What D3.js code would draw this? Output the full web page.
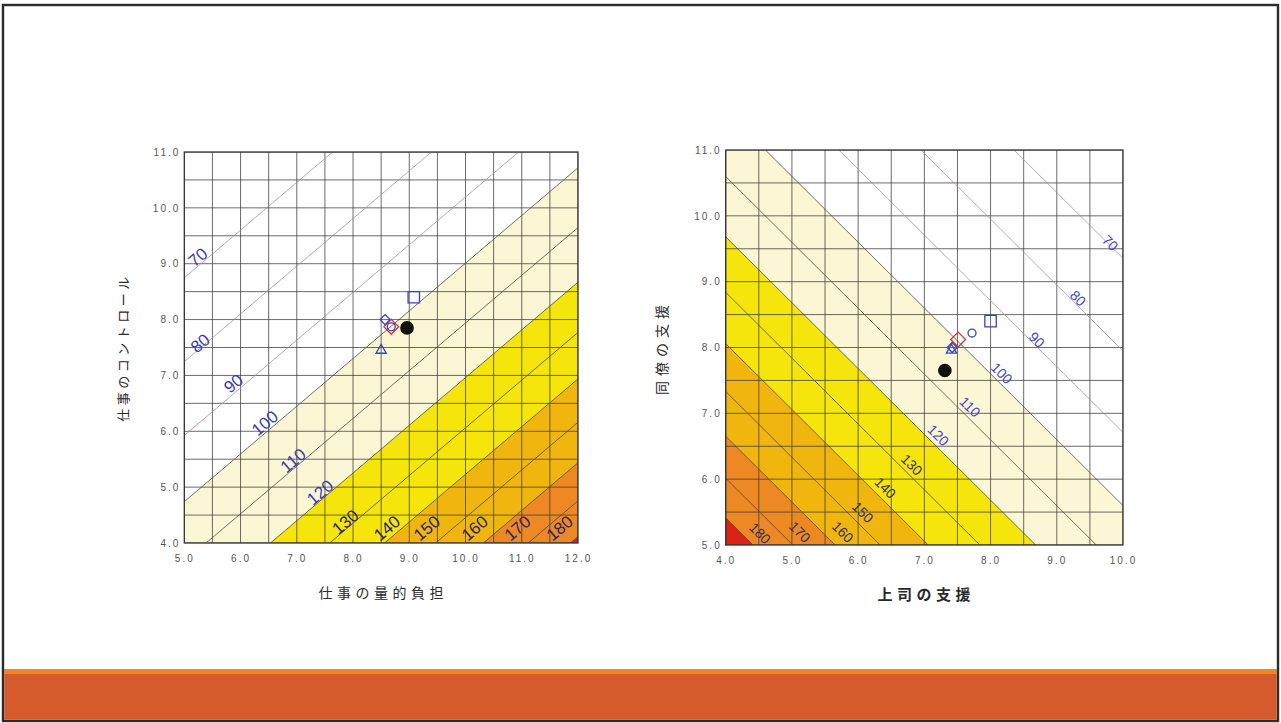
<!DOCTYPE html>
<html>
<head>
<meta charset="utf-8">
<script src="https://cdn.jsdelivr.net/npm/d3@7"></script>
<style>
  body { margin: 0; background: #fff; }
  svg { display: block; }
  text { font-family: "Liberation Sans", Arial, sans-serif; }
  .jp { font-family: "Noto Sans CJK JP", "Noto Sans CJK SC", sans-serif; }
</style>
</head>
<body>
<svg id="chart" width="1281" height="723"></svg>
<script>
// ---- iso-risk levels and band colours ----
const riskLevels = [70, 80, 90, 100, 110, 120, 130, 140, 150, 160, 170, 180];
const bandThresholds = [100, 120, 140, 160, 180];
const bandColors = ["#fbf6d4", "#f6e50a", "#f0b60e", "#ee8822", "#dc2214"];

// ---- left panel: quantitative demand vs. control ----
const demandTicks = [5, 6, 7, 8, 9, 10, 11, 12];
const controlTicks = [4, 5, 6, 7, 8, 9, 10, 11];
const demandValues  = [9.08, 8.96, 8.68, 8.57, 8.68, 8.50];
const controlValues = [8.40, 7.85, 7.87, 8.00, 7.87, 7.45];
// label anchor points along each iso-line (x, y in axis units)
const demandLabelX  = [5.24, 5.28, 5.87, 6.43, 6.93, 7.41, 7.86, 8.60, 9.31, 10.16, 10.92, 11.67];
const controlLabelY = [9.12, 7.58, 6.86, 6.15, 5.48, 4.91, 4.38, 4.27, 4.27, 4.27, 4.27, 4.27];

// ---- right panel: supervisor support vs. coworker support ----
const supervisorTicks = [4, 5, 6, 7, 8, 9, 10];
const coworkerTicks = [5, 6, 7, 8, 9, 10, 11];
const supervisorValues = [8.00, 7.31, 7.51, 7.42, 7.72, 7.41];
const coworkerValues   = [8.40, 7.65, 8.12, 8.00, 8.22, 7.96];
const supervisorLabelX = [9.81, 9.32, 8.70, 8.17, 7.69, 7.21, 6.81, 6.41, 6.07, 5.77, 5.12, 4.52];
const coworkerLabelY   = [9.59, 8.75, 8.12, 7.61, 7.10, 6.67, 6.22, 5.87, 5.50, 5.20, 5.20, 5.18];

// ---- markers shared by both panels ----
const markerShapes = ["square", "dot", "diamond", "diamond", "circle", "triangle"];
const markerColors = ["#3343c8", "#111111", "#e0303a", "#3343c8", "#3343c8", "#3343c8"];
const markerSizes  = [130, 120, 110, 50, 50, 45];

const svg = d3.select("#chart");

// page frame and footer band
svg.append("rect").attr("x", 3).attr("y", 5).attr("width", 1275).attr("height", 716)
  .attr("fill", "#fff").attr("stroke", "#2b2b2b").attr("stroke-width", 2.4);
svg.append("rect").attr("x", 4.2).attr("y", 669).attr("width", 1272.6).attr("height", 50.8)
  .attr("fill", "#d55a2c");
svg.append("rect").attr("x", 4.2).attr("y", 669).attr("width", 1272.6).attr("height", 5)
  .attr("fill", "#f0862a");

function drawPanel(cfg) {
  const x = d3.scaleLinear().domain(cfg.xDomain).range([cfg.left, cfg.right]);
  const y = d3.scaleLinear().domain(cfg.yDomain).range([cfg.bottom, cfg.top]);
  const g = svg.append("g");

  g.append("clipPath").attr("id", cfg.id + "-clip")
    .append("rect").attr("x", cfg.left).attr("y", cfg.top)
    .attr("width", cfg.right - cfg.left).attr("height", cfg.bottom - cfg.top);
  const plot = g.append("g").attr("clip-path", `url(#${cfg.id}-clip)`);
  plot.append("rect").attr("x", cfg.left).attr("y", cfg.top)
    .attr("width", cfg.right - cfg.left).attr("height", cfg.bottom - cfg.top).attr("fill", "#fff");

  // log-risk surface -> filled bands
  const logRisk = (xv, yv) => cfg.cx * (xv - cfg.mx) + cfg.cy * (yv - cfg.my);
  const nx = 161, ny = 161;
  const [x0, x1] = cfg.xDomain, [y0, y1] = cfg.yDomain;
  const grid = new Float64Array(nx * ny);
  for (let j = 0; j < ny; j++) {
    for (let i = 0; i < nx; i++) {
      grid[j * nx + i] = logRisk(x0 + (i / (nx - 1)) * (x1 - x0), y1 - (j / (ny - 1)) * (y1 - y0));
    }
  }
  const bands = d3.contours().size([nx, ny]).thresholds(bandThresholds.map(v => Math.log(v / 100)))(grid);
  const gx = c => x(x0 + ((c - 0.5) / (nx - 1)) * (x1 - x0));
  const gy = c => y(y1 - ((c - 0.5) / (ny - 1)) * (y1 - y0));
  const proj = d3.geoTransform({ point(px, py) { this.stream.point(gx(px), gy(py)); } });
  plot.selectAll("path.band").data(bands).join("path").attr("class", "band")
    .attr("d", d3.geoPath(proj)).attr("fill", (d, i) => bandColors[i]);

  // grid every half unit
  const xs = d3.range(x0, x1 + 1e-9, 0.5), ys = d3.range(y0, y1 + 1e-9, 0.5);
  plot.selectAll("line.vx").data(xs).join("line")
    .attr("x1", d => x(d)).attr("x2", d => x(d)).attr("y1", cfg.top).attr("y2", cfg.bottom)
    .attr("stroke", "#3c3c3c").attr("stroke-width", 0.9).attr("stroke-opacity", 0.85);
  plot.selectAll("line.hy").data(ys).join("line")
    .attr("y1", d => y(d)).attr("y2", d => y(d)).attr("x1", cfg.left).attr("x2", cfg.right)
    .attr("stroke", "#3c3c3c").attr("stroke-width", 0.9).attr("stroke-opacity", 0.85);

  // iso-risk lines
  const lineY = (v, xv) => cfg.my + (Math.log(v / 100) - cfg.cx * (xv - cfg.mx)) / cfg.cy;
  const xa = x0 - 2, xb = x1 + 2;
  plot.selectAll("line.iso").data(riskLevels).join("line")
    .attr("x1", x(xa)).attr("y1", v => y(lineY(v, xa)))
    .attr("x2", x(xb)).attr("y2", v => y(lineY(v, xb)))
    .attr("stroke", v => v < 100 ? "#a88e9c" : "#4a4a4a").attr("stroke-width", 0.8);

  // iso-line labels
  const angle = Math.atan2(y(lineY(100, xb)) - y(lineY(100, xa)), x(xb) - x(xa)) * 180 / Math.PI;
  g.selectAll("text.iso").data(riskLevels).join("text")
    .attr("transform", (v, i) => `translate(${x(cfg.labelX[i])},${y(cfg.labelY[i])}) rotate(${angle})`)
    .attr("text-anchor", "middle").attr("dy", "0.36em")
    .attr("font-size", cfg.labelSize).attr("fill", v => v <= 120 ? cfg.labelColor : cfg.labelColorDark)
    .text(v => v);

  // markers
  const sym = d3.symbol();
  const pts = cfg.xVals.map((v, i) => ({ xv: v, yv: cfg.yVals[i], i }));
  g.selectAll("path.mk").data(pts).join("path")
    .attr("transform", d => `translate(${x(d.xv)},${y(d.yv)})` + (markerShapes[d.i] === "diamond" ? " rotate(45)" : ""))
    .attr("d", d => {
      const s = markerShapes[d.i];
      const type = s === "square" || s === "diamond" ? d3.symbolSquare
        : s === "triangle" ? d3.symbolTriangle : d3.symbolCircle;
      return sym.type(type).size(markerSizes[d.i])();
    })
    .attr("fill", d => markerShapes[d.i] === "dot" ? "#111" : "none")
    .attr("stroke", d => markerColors[d.i]).attr("stroke-width", 1.3);

  // frame
  g.append("rect").attr("x", cfg.left).attr("y", cfg.top)
    .attr("width", cfg.right - cfg.left).attr("height", cfg.bottom - cfg.top)
    .attr("fill", "none").attr("stroke", "#333").attr("stroke-width", 1.3);

  // axes
  const fmt = d3.format(".1f");
  const ax = g.append("g").attr("transform", `translate(0,${cfg.bottom})`)
    .call(d3.axisBottom(x).tickValues(cfg.xTicks).tickSize(0).tickPadding(12).tickFormat(fmt));
  const ay = g.append("g").attr("transform", `translate(${cfg.left},0)`)
    .call(d3.axisLeft(y).tickValues(cfg.yTicks).tickSize(0).tickPadding(4).tickFormat(fmt));
  [ax, ay].forEach(a => {
    a.select(".domain").remove();
    a.selectAll("text").attr("font-size", 10).attr("fill", "#555")
      .attr("letter-spacing", "2px").attr("font-family", "'Liberation Sans', Arial, sans-serif");
  });

  // axis titles
  g.append("text").attr("class", "jp")
    .attr("x", (cfg.left + cfg.right) / 2 + 2).attr("y", cfg.bottom + 55)
    .attr("text-anchor", "middle").attr("font-size", cfg.xTitleSize).attr("letter-spacing", cfg.xTitleSpacing)
    .attr("font-weight", cfg.xTitleWeight).attr("fill", "#2a2a2a").text(cfg.xTitle);
  g.append("text").attr("class", "jp")
    .attr("transform", `translate(${cfg.yTitleX},${(cfg.top + cfg.bottom) / 2}) rotate(-90)`)
    .attr("text-anchor", "middle").attr("font-size", cfg.yTitleSize).attr("letter-spacing", cfg.yTitleSpacing)
    .attr("fill", "#2a2a2a").text(cfg.yTitle);
}

drawPanel({
  id: "demand", left: 184.3, right: 578, top: 152, bottom: 543,
  xDomain: [5, 12], yDomain: [4, 11], xTicks: demandTicks, yTicks: controlTicks,
  cx: 0.076, cy: -0.089, mx: 8.7, my: 7.9,
  labelX: demandLabelX, labelY: controlLabelY, labelSize: 17,
  labelColor: "#3b3bb0", labelColorDark: "#2a2670",
  xVals: demandValues, yVals: controlValues,
  xTitle: "仕事の量的負担", xTitleSize: 14, xTitleSpacing: "4.5px", xTitleWeight: 400,
  yTitle: "仕事のコントロール", yTitleX: 128, yTitleSize: 13, yTitleSpacing: "3.5px"
});

drawPanel({
  id: "support", left: 725.7, right: 1123, top: 150, bottom: 545,
  xDomain: [4, 10], yDomain: [5, 11], xTicks: supervisorTicks, yTicks: coworkerTicks,
  cx: -0.095, cy: -0.095, mx: 7.5, my: 8.1,
  labelX: supervisorLabelX, labelY: coworkerLabelY, labelSize: 14,
  labelColor: "#4646c2", labelColorDark: "#33305e",
  xVals: supervisorValues, yVals: coworkerValues,
  xTitle: "上司の支援", xTitleSize: 15, xTitleSpacing: "4.5px", xTitleWeight: 700,
  yTitle: "同僚の支援", yTitleX: 667, yTitleSize: 14, yTitleSpacing: "5px"
});
</script>
</body>
</html>
